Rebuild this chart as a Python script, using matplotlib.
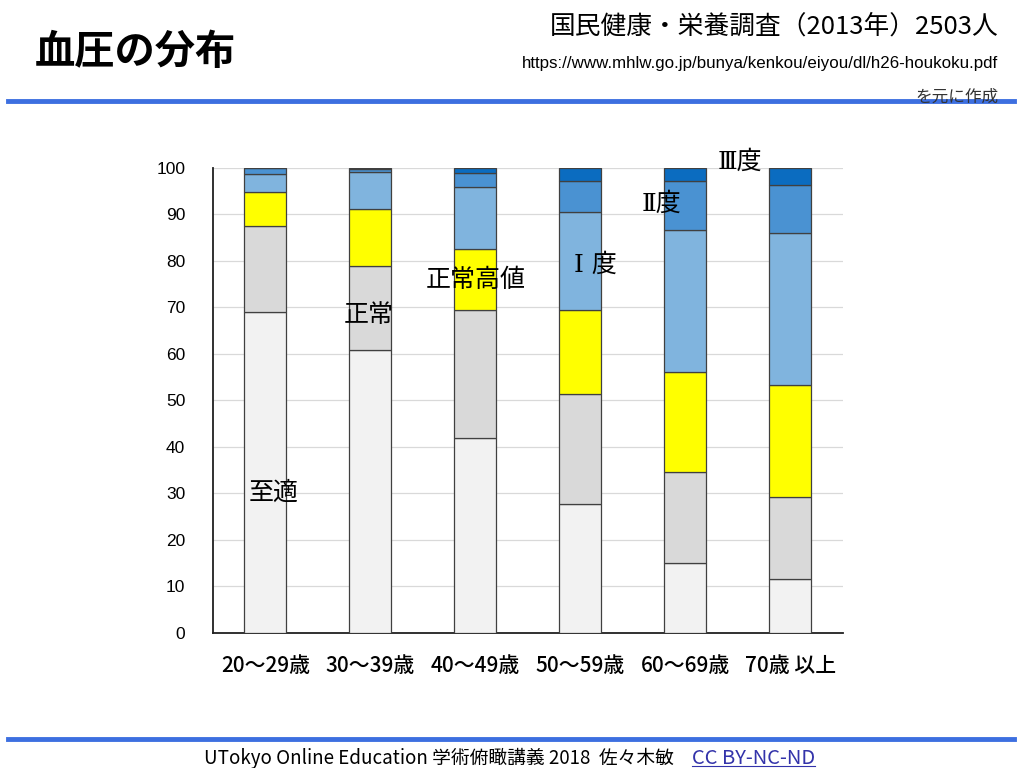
import matplotlib
matplotlib.use("Agg")
import matplotlib.pyplot as plt
import numpy as np

plt.rcParams['font.family'] = ['Noto Sans CJK JP', 'DejaVu Sans']

# age groups and blood pressure class shares (%)
ages = ["20～29歳", "30～39歳", "40～49歳", "50～59歳", "60～69歳", "70歳 以上"]
optimal = [69.0, 60.9, 41.9, 27.7, 15.1, 11.6]
normal = [18.5, 18.0, 27.6, 23.7, 19.5, 17.6]
high_normal = [7.3, 12.2, 13.0, 18.0, 21.5, 24.1]
grade1 = [3.8, 8.0, 13.3, 21.0, 30.6, 32.6]
grade2 = [1.4, 0.6, 3.1, 6.8, 10.5, 10.3]
grade3 = [0.0, 0.3, 1.1, 2.8, 2.8, 3.8]

series = [optimal, normal, high_normal, grade1, grade2, grade3]
colors = ["#f2f2f2", "#d9d9d9", "#ffff00", "#80b4de", "#4a92d2", "#0b6cc0"]

fig = plt.figure(figsize=(10.24, 7.68), dpi=100)

# header / footer
fig.text(0.034, 0.932, "血圧の分布", fontsize=29, fontweight="bold", va="center", ha="left")
fig.text(0.975, 0.966, "国民健康・栄養調査（2013年）2503人", fontsize=18.5, ha="right", va="center")
fig.text(0.975, 0.917, "https://www.mhlw.go.jp/bunya/kenkou/eiyou/dl/h26-houkoku.pdf",
         fontsize=12.2, ha="right", va="center", family=["Liberation Sans", "DejaVu Sans"])
fig.text(0.975, 0.874, "を元に作成", fontsize=12, ha="right", va="center", color="#333333")
fig.add_artist(plt.Line2D([0.008, 0.99], [0.869, 0.869], color="#3d6fe0", lw=3.5))
fig.add_artist(plt.Line2D([0.008, 0.99], [0.038, 0.038], color="#3d6fe0", lw=3.5))
fig.text(0.658, 0.013, "UTokyo Online Education 学術俯瞰講義 2018  佐々木敏",
         fontsize=13.5, ha="right", va="center")
cc = fig.text(0.676, 0.013, "CC BY-NC-ND", fontsize=14.5, ha="left", va="center", color="#3333aa")
fig.canvas.draw()
bb = cc.get_window_extent().transformed(fig.transFigure.inverted())
fig.add_artist(plt.Line2D([bb.x0, bb.x1], [0.002, 0.002], color="#3333aa", lw=0.8))

ax = fig.add_axes([0.208, 0.176, 0.615, 0.6055])
x = np.arange(len(ages))
bottom = np.zeros(len(ages))
for vals, c in zip(series, colors):
    ax.bar(x, vals, 0.4, bottom=bottom, color=c, edgecolor="#404040", linewidth=0.9, zorder=3)
    bottom += np.array(vals)

ax.set_xlim(-0.5, 5.5)
ax.set_ylim(0, 100)
ax.set_yticks(range(0, 101, 10))
ax.yaxis.grid(True, color="#d9d9d9", lw=0.9, zorder=0)
ax.set_xticks(x)
ax.set_xticklabels(ages, fontsize=15, fontweight="medium")
for lbl in ax.get_yticklabels():
    lbl.set_family(["Liberation Sans", "DejaVu Sans"])
    lbl.set_fontsize(12.5)
ax.tick_params(axis="both", length=0)
ax.tick_params(axis="x", pad=16)
ax.tick_params(axis="y", pad=20)
for s in ["top", "right"]:
    ax.spines[s].set_visible(False)
ax.spines["left"].set_color("#202020")
ax.spines["left"].set_linewidth(1.3)
ax.spines["bottom"].set_color("#202020")
ax.spines["bottom"].set_linewidth(1.3)

# category labels
lab_kw = dict(fontsize=18, ha="center", va="center", zorder=5)
roman = ["DejaVu Serif", "Noto Sans CJK JP"]
ax.text(0.08, 30.1, "至適", **lab_kw)
ax.text(0.98, 68.4, "正常", **lab_kw)
ax.text(2.0, 75.9, "正常高値", **lab_kw)
ax.text(3.14, 79.1, "Ⅰ 度", family=roman, **lab_kw)
ax.text(3.77, 92.3, "Ⅱ度", family=roman, **lab_kw)
ax.text(4.52, 101.3, "Ⅲ度", family=roman, clip_on=False, **lab_kw)

fig.savefig("out.png", dpi=100)
